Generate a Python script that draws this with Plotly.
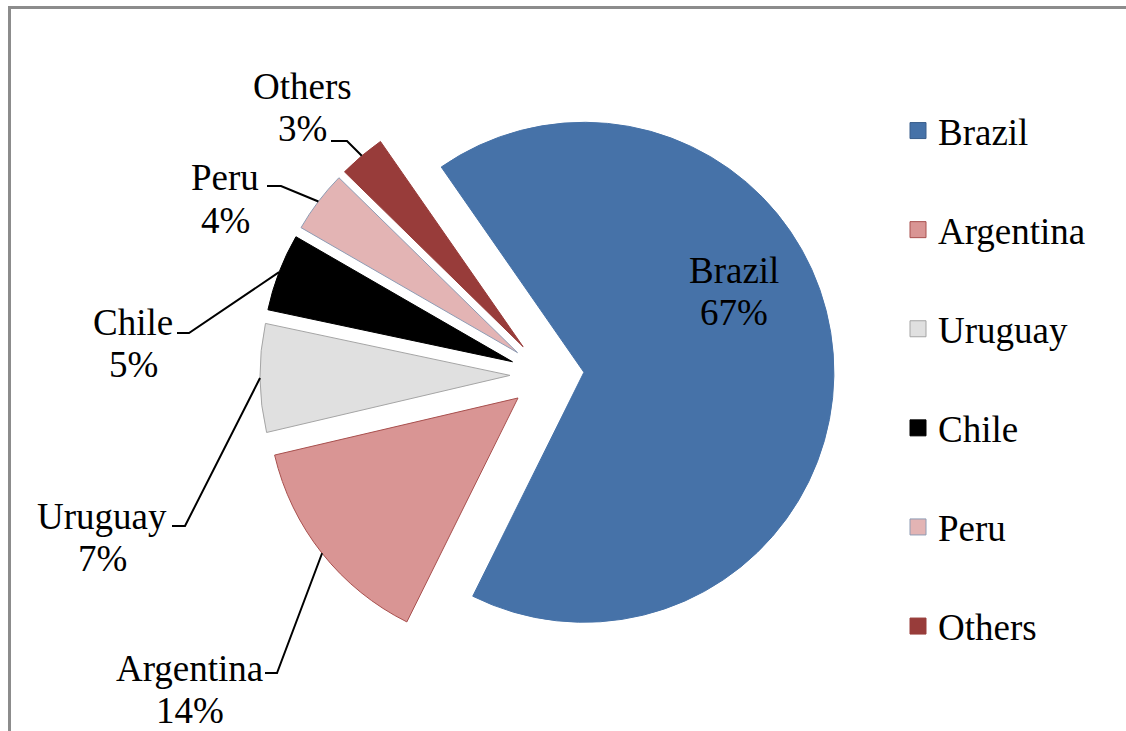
import math
import plotly.graph_objects as go

# ---- data ----
countries = ["Brazil", "Argentina", "Uruguay", "Chile", "Peru", "Others"]
shares = [67, 14, 7, 5, 4, 3]

# ---- styles ----
slice_colors = ["#4672A8", "#D99594", "#E0E0E0", "#000000", "#E3B4B4", "#983C3A"]
edge_colors = ["#4672A8", "#A8504E", "#A5A5A5", "#000000", "#8E9CB4", "#983C3A"]
FONT = "'Liberation Serif', 'Times New Roman', Times, 'DejaVu Serif', serif"
FS = 37

W, H = 1126, 731
CX, CY, R, PULL = 547, 375, 250, 0.148
ROT = -34.8
half = R * (1 + PULL)
domain_x = [(CX - half) / W, (CX + half) / W]
domain_y = [1 - (CY + half) / H, 1 - (CY - half) / H]


def px(x):
    return x / W


def py(y):
    return 1 - y / H


# label layout (pixels): name centre x, name y, elbow start x (near label), elbow end x
label_layout = {
    "Brazil": (734, 270, None, None),
    "Argentina": (190, 668, 265, 277),
    "Uruguay": (102, 516, 172, 185),
    "Chile": (133, 322, 177, 189),
    "Peru": (225, 178, 267, 281),
    "Others": (302, 86, 331, 347),
}
elbow_y = {"Argentina": 673, "Uruguay": 526, "Chile": 333, "Peru": 186, "Others": 141}

fig = go.Figure()
fig.add_trace(go.Pie(
    labels=countries, values=shares, sort=False, direction="clockwise",
    rotation=ROT, pull=[PULL] * len(shares),
    marker=dict(colors=slice_colors, line=dict(color=edge_colors, width=1)),
    textinfo="none", showlegend=False, hoverinfo="label+percent",
    domain=dict(x=domain_x, y=domain_y),
))

# legend entries
for name, col, ec in zip(countries, slice_colors, edge_colors):
    fig.add_trace(go.Scatter(
        x=[None], y=[None], mode="markers", name=name, legendgroup=name,
        marker=dict(symbol="square", size=16, color=col,
                    line=dict(color=ec if name != "Brazil" else "#3A5F8C", width=1)),
    ))

# labels and leader lines
total = sum(shares)
ang = ROT
annotations = []
shapes = []
for name, v in zip(countries, shares):
    span = v / total * 360
    mid = math.radians(ang + span / 2)
    ang += span
    lx, ly, ex0, ex1 = label_layout[name]
    annotations.append(dict(x=px(lx), y=py(ly), xref="paper", yref="paper", text=name,
                            showarrow=False, font=dict(family=FONT, size=FS, color="black"),
                            xanchor="center", yanchor="middle"))
    annotations.append(dict(x=px(lx), y=py(ly + 42), xref="paper", yref="paper", text=f"{v}%",
                            showarrow=False, font=dict(family=FONT, size=FS, color="black"),
                            xanchor="center", yanchor="middle"))
    if ex0 is not None:
        ax = CX + half * math.sin(mid)
        ay = CY - half * math.cos(mid)
        ey = elbow_y[name]
        path = f"M {px(ex0)},{py(ey)} L {px(ex1)},{py(ey)} L {px(ax)},{py(ay)}"
        shapes.append(dict(type="path", path=path, xref="paper", yref="paper",
                           line=dict(color="black", width=2)))

# outer frame: only the left and top edges fall inside the page
shapes.append(dict(type="line", xref="paper", yref="paper", x0=px(9.5), x1=px(9.5),
                   y0=0, y1=py(6), line=dict(color="#8C8C8C", width=3)))
shapes.append(dict(type="line", xref="paper", yref="paper", x0=px(8), x1=1,
                   y0=py(7.5), y1=py(7.5), line=dict(color="#8C8C8C", width=3)))

fig.update_layout(
    width=W, height=H, margin=dict(l=0, r=0, t=0, b=0),
    paper_bgcolor="white", plot_bgcolor="white",
    font=dict(family=FONT, color="black"),
    xaxis=dict(visible=False), yaxis=dict(visible=False),
    annotations=annotations, shapes=shapes,
    legend=dict(x=px(898), y=py(100), xanchor="left", yanchor="top",
                font=dict(family=FONT, size=FS, color="black"),
                traceorder="grouped", tracegroupgap=48,
                bgcolor="rgba(0,0,0,0)", itemclick=False, itemdoubleclick=False),
)

fig.write_html(
    "out.html",
    config={"displayModeBar": False},
    post_script="document.documentElement.style.overflow='hidden';"
                "document.body.style.overflow='hidden';document.body.style.margin='0';",
)
